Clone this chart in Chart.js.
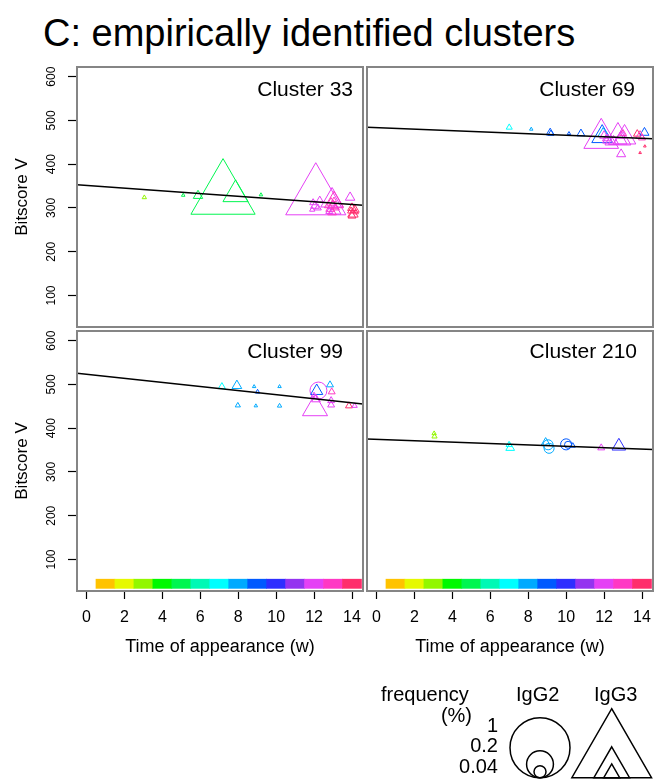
<!DOCTYPE html>
<html lang="en">
<head>
<meta charset="UTF-8">
<title>C: empirically identified clusters</title>
<script src="https://cdn.jsdelivr.net/npm/chart.js"></script>
<style>
  body {
    margin: 0;
    width: 654px;
    height: 780px;
    position: relative;
    overflow: hidden;
    background: #fff;
    color: #000;
    font-family: "Liberation Sans", Arial, Helvetica, sans-serif;
  }
  canvas, .txt { position: absolute; }
  .txt { line-height: 1; white-space: nowrap; }
  .title { left: 43px; top: 14px; font-size: 38px; }
  .clab { font-size: 21px; }
  .leg { font-size: 20px; }
</style>
</head>
<body>
<div class="txt title">C: empirically identified clusters</div>

<canvas id="p33" width="370" height="270" style="left:0;top:60px"></canvas>
<canvas id="p69" width="291" height="270" style="left:363px;top:60px"></canvas>
<canvas id="p99" width="370" height="340" style="left:0;top:324px"></canvas>
<canvas id="p210" width="291" height="340" style="left:363px;top:324px"></canvas>
<canvas id="legendSym" width="164" height="80" style="left:490px;top:700px"></canvas>

<div class="txt clab" style="right:301px;top:78px">Cluster 33</div>
<div class="txt clab" style="right:19px;top:78px">Cluster 69</div>
<div class="txt clab" style="right:311px;top:340px">Cluster 99</div>
<div class="txt clab" style="right:17px;top:340px">Cluster 210</div>

<div class="txt leg" style="left:381px;top:684px">frequency</div>
<div class="txt leg" style="right:182px;top:705px">(%)</div>
<div class="txt leg" style="right:156px;top:715px">1</div>
<div class="txt leg" style="right:156px;top:735px">0.2</div>
<div class="txt leg" style="right:156px;top:756px">0.04</div>
<div class="txt leg" style="left:516px;top:684px">IgG2</div>
<div class="txt leg" style="left:594px;top:684px">IgG3</div>

<script>
// colour of each week (1..14), also used for the bar along the bottom
const weekColors = ["#ffc300", "#e6f900", "#92f700", "#00f900", "#00f650", "#00f9b5", "#00ffff",
                    "#00aaff", "#0059ff", "#2e2eff", "#9433f0", "#e540f5", "#ff38c4", "#ff2d6c"];
const barWeeks = [1, 2, 3, 4, 5, 6, 7, 8, 9, 10, 11, 12, 13, 14];
const barRange = [34, 55];

const xTicks = [0, 2, 4, 6, 8, 10, 12, 14];
const yTicks = [100, 200, 300, 400, 500, 600];

// cluster 33
const c33Time  = [3.05, 5.1, 5.88, 7.2, 7.86, 9.2, 12.09, 12.95, 13.05, 11.95, 12.05, 12.2, 11.9, 12.3, 12.9, 13.0, 12.85, 13.1, 12.95, 13.15, 12.8, 13.05, 13.9, 14.0, 13.95, 14.15, 14.05, 14.2, 14.0];
const c33Score = [324, 329, 328, 328, 331, 330, 324, 317, 313, 312, 305, 300, 296, 318, 312, 305, 298, 294, 290, 300, 292, 318, 324, 300, 293, 296, 286, 290, 282];
const c33Freq  = [0.003, 0.002, 0.014, 0.65, 0.10, 0.002, 0.57, 0.08, 0.057, 0.0076, 0.012, 0.0076, 0.0043, 0.0076, 0.012, 0.017, 0.012, 0.023, 0.012, 0.0076, 0.0076, 0.0043, 0.0143, 0.012, 0.0076, 0.012, 0.017, 0.0043, 0.0096];
const c33Week  = [3, 5, 5, 5, 5, 5, 12, 12, 13, 12, 12, 12, 12, 12, 13, 13, 13, 12, 13, 13, 12, 13, 12, 14, 14, 14, 14, 14, 14];
const c33Type  = ["G3", "G3", "G3", "G3", "G3", "G3", "G3", "G3", "G3", "G3", "G3", "G3", "G3", "G3", "G3", "G3", "G3", "G3", "G3", "G3", "G3", "G3", "G3", "G3", "G3", "G3", "G3", "G3", "G3"];

// cluster 69
const c69Time  = [7.0, 8.16, 9.16, 9.2, 10.15, 10.78, 11.85, 11.9, 11.95, 12.73, 13.08, 12.9, 13.75, 14.13, 14.15, 13.9, 12.0, 12.1, 12.9, 13.0, 12.5, 13.9, 14.0, 12.2, 12.85];
const c69Score = [484, 480, 472, 470, 470, 470, 459, 463, 470, 461, 461, 423, 469, 472, 441, 426, 465, 458, 465, 470, 452, 465, 460, 455, 455];
const c69Freq  = [0.0058, 0.0019, 0.0096, 0.0058, 0.0019, 0.0096, 0.19, 0.068, 0.017, 0.106, 0.08, 0.013, 0.009, 0.013, 0.0011, 0.0011, 0.012, 0.0076, 0.012, 0.0076, 0.017, 0.012, 0.0076, 0.017, 0.03];
const c69Week  = [7, 8, 9, 9, 9, 9, 12, 9, 8, 12, 12, 12, 14, 9, 14, 14, 12, 12, 12, 13, 12, 13, 13, 12, 12];
const c69Type  = ["G3", "G3", "G3", "G3", "G3", "G3", "G3", "G3", "G3", "G3", "G3", "G3", "G3", "G3", "G3", "G3", "G3", "G3", "G3", "G3", "G3", "G3", "G3", "G3", "G3"];

// cluster 99
const c99Time  = [7.14, 7.93, 8.84, 9.02, 10.18, 7.98, 8.93, 10.18, 12.23, 12.14, 12.05, 12.1, 12.0, 12.84, 12.93, 12.9, 12.9, 13.84, 14.14];
const c99Score = [495, 497, 495, 483, 495, 452, 451, 451, 486, 485, 445, 466, 473, 499, 483, 463, 453, 451, 451];
const c99Freq  = [0.0076, 0.015, 0.0019, 0.003, 0.0019, 0.0043, 0.0019, 0.003, 0.08, 0.023, 0.099, 0.012, 0.0076, 0.0076, 0.0076, 0.0076, 0.0076, 0.0076, 0.0043];
const c99Week  = [7, 8, 8, 9, 8, 8, 8, 8, 12, 9, 12, 12, 12, 8, 13, 12, 12, 14, 12];
const c99Type  = ["G3", "G3", "G3", "G3", "G3", "G3", "G3", "G3", "G2", "G3", "G3", "G3", "G3", "G3", "G3", "G3", "G3", "G3", "G3"];

// cluster 210
const c210Time  = [3.04, 3.06, 6.99, 7.05, 8.92, 9.1, 9.05, 10.0, 10.1, 10.35, 11.85, 12.78];
const c210Score = [388, 381, 362, 355, 367, 354, 362, 363, 362, 360, 355, 359];
const c210Freq  = [0.003, 0.0043, 0.0058, 0.012, 0.012, 0.028, 0.028, 0.034, 0.014, 0.0043, 0.0076, 0.029];
const c210Week  = [3, 3, 7, 7, 8, 8, 8, 9, 9, 9, 12, 10];
const c210Type  = ["G3", "G3", "G3", "G3", "G3", "G2", "G2", "G2", "G2", "G3", "G3", "G3"];

// fitted lines: score = intercept + slope * week
const trendIntercept = [351.5, 483.4, 523.2, 374.2];
const trendSlope     = [-3.1, -1.72, -4.68, -1.56];

// legend
const legendFreq = [1, 0.2, 0.04];

const X_MIN = -0.5, X_MAX = 14.58, Y_MIN = 28, Y_MAX = 622;

Chart.defaults.font.family = '"Liberation Sans", Arial, Helvetica, sans-serif';
Chart.defaults.color = "#000";

function symbolRadius(freq, type) {
    return (type === "G2" ? 30 : 46) * Math.sqrt(freq);
}

// grey frame round each panel
const panelFrame = {
    id: "panelFrame",
    afterDatasetsDraw(chart) {
        const a = chart.chartArea;
        const ctx = chart.ctx;
        ctx.save();
        ctx.strokeStyle = "#858585";
        ctx.lineWidth = 2;
        ctx.strokeRect(a.left, a.top, a.right - a.left, a.bottom - a.top);
        ctx.restore();
    }
};

function makePanel(id, time, score, freq, week, type, k, showX, showY, pad) {
    const datasets = [
        {
            type: "line",
            data: [X_MIN, X_MAX].map(x => ({ x: x, y: trendIntercept[k] + trendSlope[k] * x })),
            borderColor: "#000",
            borderWidth: 1.5,
            pointRadius: 0
        },
        {
            type: "scatter",
            data: time.map((t, i) => ({ x: t, y: score[i] })),
            pointStyle: type.map(t => t === "G2" ? "circle" : "triangle"),
            pointRadius: freq.map((f, i) => symbolRadius(f, type[i])),
            pointBorderColor: week.map(w => weekColors[w - 1]),
            pointBackgroundColor: "rgba(0,0,0,0)",
            pointBorderWidth: 1,
            clip: false
        }
    ];
    if (showX) {
        datasets.push({
            type: "bar",
            data: barWeeks.map(w => ({ x: w, y: barRange })),
            backgroundColor: barWeeks.map(w => weekColors[w - 1]),
            borderWidth: 0,
            barPercentage: 1,
            categoryPercentage: 1
        });
    }

    const xScale = {
        type: "linear",
        min: X_MIN,
        max: X_MAX,
        offset: false,
        display: showX,
        afterBuildTicks: s => { s.ticks = xTicks.map(v => ({ value: v })); },
        ticks: { font: { size: 16 }, padding: 9, maxRotation: 0, autoSkip: false },
        grid: { offset: false, drawOnChartArea: false, tickLength: 8, tickColor: "#000", tickWidth: 1.2 },
        border: { display: false },
        title: { display: true, text: "Time of appearance (w)", font: { size: 18 }, padding: { top: 0, bottom: 6 } }
    };
    if (showX) {
        xScale.afterFit = s => {
            s.height = 73;
            s.paddingLeft = 0;
            s.paddingRight = 0;
        };
    }

    const yScale = {
        type: "linear",
        min: Y_MIN,
        max: Y_MAX,
        display: showY,
        afterBuildTicks: s => { s.ticks = yTicks.map(v => ({ value: v })); },
        ticks: { font: { size: 12 }, padding: 6, minRotation: 90, maxRotation: 90, crossAlign: "center" },
        grid: { drawOnChartArea: false, tickLength: 9, tickColor: "#000", tickWidth: 1.2 },
        border: { display: false },
        title: { display: true, text: "Bitscore V", font: { size: 17 }, padding: { top: 12, bottom: 0 } }
    };
    if (showY) {
        yScale.afterFit = s => {
            s.width = 77;
            s.paddingTop = 0;
            s.paddingBottom = 0;
        };
    }

    new Chart(document.getElementById(id), {
        type: "scatter",
        data: { datasets: datasets },
        options: {
            responsive: false,
            animation: false,
            events: [],
            layout: { padding: pad, autoPadding: false },
            plugins: { legend: { display: false }, tooltip: { enabled: false } },
            scales: { x: xScale, y: yScale }
        },
        plugins: [panelFrame]
    });
}

makePanel("p33", c33Time, c33Score, c33Freq, c33Week, c33Type, 0, false, true,
          { left: 0, top: 7, right: 7, bottom: 3 });
makePanel("p69", c69Time, c69Score, c69Freq, c69Week, c69Type, 1, false, false,
          { left: 4, top: 7, right: 1, bottom: 3 });
makePanel("p99", c99Time, c99Score, c99Freq, c99Week, c99Type, 2, true, true,
          { left: 0, top: 7, right: 7, bottom: 0 });
makePanel("p210", c210Time, c210Score, c210Freq, c210Week, c210Type, 3, true, false,
          { left: 4, top: 7, right: 1, bottom: 0 });

// legend symbols: nested, sitting on a common base line
const LEG_LEFT = 490, LEG_TOP = 700, LEG_BASE = 777.7;
const legCircleX = 540, legTriangleX = 611.7;
new Chart(document.getElementById("legendSym"), {
    type: "scatter",
    data: {
        datasets: [
            {
                data: legendFreq.map(f => ({ x: legCircleX, y: LEG_BASE - symbolRadius(f, "G2") })),
                pointStyle: "circle",
                pointRadius: legendFreq.map(f => symbolRadius(f, "G2")),
                pointBorderColor: "#000",
                pointBackgroundColor: "rgba(0,0,0,0)",
                pointBorderWidth: 1.5,
                clip: false
            },
            {
                data: legendFreq.map(f => ({ x: legTriangleX, y: LEG_BASE - symbolRadius(f, "G3") / 2 })),
                pointStyle: "triangle",
                pointRadius: legendFreq.map(f => symbolRadius(f, "G3")),
                pointBorderColor: "#000",
                pointBackgroundColor: "rgba(0,0,0,0)",
                pointBorderWidth: 1.5,
                clip: false
            }
        ]
    },
    options: {
        responsive: false,
        animation: false,
        events: [],
        layout: { padding: 0, autoPadding: false },
        plugins: { legend: { display: false }, tooltip: { enabled: false } },
        scales: {
            x: { type: "linear", display: false, min: LEG_LEFT, max: LEG_LEFT + 164 },
            y: { type: "linear", display: false, reverse: true, min: LEG_TOP, max: LEG_TOP + 80 }
        }
    }
});
</script>
</body>
</html>
